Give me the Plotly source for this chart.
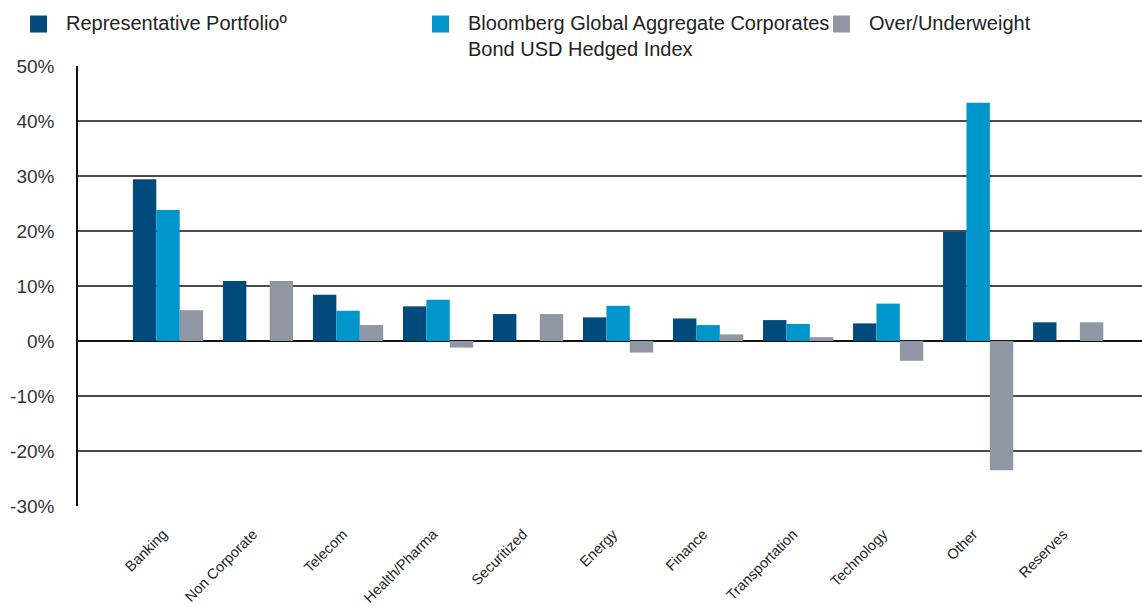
import plotly.graph_objects as go

categories = ["Banking", "Non Corporate", "Telecom", "Health/Pharma", "Securitized",
              "Energy", "Finance", "Transportation", "Technology", "Other", "Reserves"]
portfolio = [29.4, 10.9, 8.4, 6.3, 4.9, 4.3, 4.1, 3.8, 3.2, 19.8, 3.4]
index_vals = [23.8, 0.0, 5.5, 7.5, 0.0, 6.4, 2.9, 3.1, 6.8, 43.3, 0.0]
overunder = [5.6, 10.9, 2.9, -1.2, 4.9, -2.1, 1.2, 0.7, -3.6, -23.5, 3.4]
y_ticks = [50, 40, 30, 20, 10, 0, -10, -20, -30]
series_names = ["Representative Portfolioº",
                "Bloomberg Global Aggregate Corporates<br>Bond USD Hedged Index",
                "Over/Underweight"]
colors = ["#004B7C", "#0096CC", "#8E97A3"]

W, H = 1142, 607
ML, MR, MT, MB = 78, 0, 65.5, 101.3
PW, PH = W - ML - MR, H - MT - MB

fig = go.Figure()
for name, vals, col in zip(series_names, [portfolio, index_vals, overunder], colors):
    fig.add_trace(go.Bar(x=categories, y=vals, name=name, marker_color=col,
                         marker_line_width=0, showlegend=False))

fig.update_layout(
    width=W, height=H,
    margin=dict(l=ML, r=MR, t=MT, b=MB, pad=0, autoexpand=False),
    paper_bgcolor="white", plot_bgcolor="white",
    barmode="group", bargap=0.22, bargroupgap=0,
    font=dict(family="Liberation Sans, Arial, sans-serif", color="#333"),
)
fig.update_xaxes(
    type="category", range=[-1, 10.82], showgrid=False, zeroline=False,
    showline=False, ticks="", tickangle=-45, automargin=False,
    tickfont=dict(family="Liberation Sans, Arial", size=14.5, color="#222"),
    ticklabelstandoff=16, ticklabelshift=-5,
)
fig.update_yaxes(
    range=[-30, 50], tickvals=y_ticks, ticktext=[f"{v}%" for v in y_ticks],
    showgrid=True, gridcolor="#4a4a4a", gridwidth=1.5,
    zeroline=True, zerolinecolor="#111", zerolinewidth=2,
    showline=True, linecolor="#111", linewidth=1.5, automargin=False,
    ticks="", ticklabelstandoff=18,
    tickfont=dict(size=19, color="#333"),
)

# custom legend
leg_x = [30, 432, 833]
sq = 17
sq_top = 15
for xpx, name, col in zip(leg_x, series_names, colors):
    x0 = (xpx - ML) / PW
    x1 = (xpx + sq - ML) / PW
    y0 = 1 + (MT - sq_top - sq) / PH
    y1 = 1 + (MT - sq_top) / PH
    fig.add_shape(type="rect", xref="paper", yref="paper", x0=x0, x1=x1, y0=y0, y1=y1,
                  fillcolor=col, line_width=0)
    fig.add_annotation(xref="paper", yref="paper", x=(xpx + 34 - ML) / PW,
                       y=1 + (MT - 9) / PH, xanchor="left", yanchor="top",
                       text=name, showarrow=False, align="left",
                       font=dict(size=20, color="#222"))

fig.write_html("out.html", config={"displayModeBar": False},
               post_script="document.body.style.margin='0';")
